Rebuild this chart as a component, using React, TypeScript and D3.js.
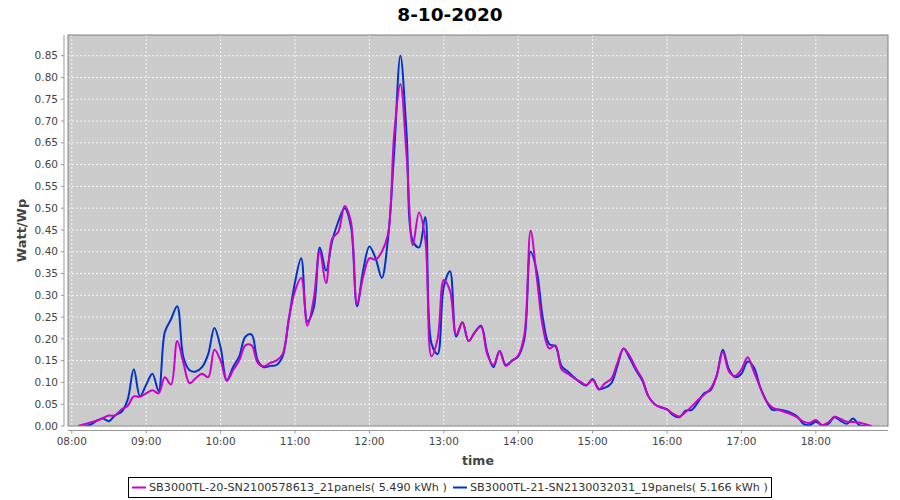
import React from "react";
import * as d3 from "d3";

const TITLE = "8-10-2020";
const X_LABEL = "time";
const Y_LABEL = "Watt/Wp";
const START_MINUTES = 5; // minutes after 08:00
const STEP_MINUTES = 5;

const seriesNames = [
  "SB3000TL-20-SN2100578613_21panels( 5.490 kWh )",
  "SB3000TL-21-SN2130032031_19panels( 5.166 kWh )",
];

const magentaValues: (number | null)[] = [
  0.0, 0.004, 0.008, 0.012, 0.018, 0.024, 0.024, 0.038, 0.046, 0.068,
  0.067, 0.075, 0.082, 0.075, 0.112, 0.095, 0.195, 0.145, 0.098, 0.110,
  0.120, 0.112, 0.175, 0.150, 0.104, 0.128, 0.150, 0.185, 0.185, 0.145,
  0.137, 0.145, 0.150, 0.165, 0.245, 0.310, 0.340, 0.230, 0.290, 0.400,
  0.328, 0.430, 0.446, 0.505, 0.470, 0.280, 0.343, 0.385, 0.382, 0.400,
  0.440, 0.670, 0.785, 0.620, 0.415, 0.490, 0.430, 0.160, 0.200, 0.335,
  0.310, 0.210, 0.238, 0.195, 0.215, 0.228, 0.165, 0.140, 0.172, 0.138,
  0.150, 0.162, 0.210, 0.448, 0.340, 0.225, 0.178, 0.185, 0.130, 0.120,
  0.110, 0.102, 0.094, 0.106, 0.084, 0.098, 0.108, 0.145, 0.178, 0.160,
  0.132, 0.108, 0.068, 0.050, 0.043, 0.038, 0.028, 0.022, 0.032, 0.045,
  0.060, 0.072, 0.085, 0.115, 0.170, 0.125, 0.115, 0.130, 0.158, 0.125,
  0.090, 0.058, 0.042, 0.037, 0.032, 0.027, 0.020, 0.010, 0.007, 0.014,
  0.002, 0.008, 0.021, 0.016, 0.010, 0.009, 0.008, 0.004, 0.0,
];

const blueValues: (number | null)[] = [
  null, 0.0, 0.003, 0.012, 0.017, 0.011, 0.025, 0.032, 0.060, 0.130,
  0.068, 0.095, 0.120, 0.080, 0.215, 0.245, 0.275, 0.158, 0.128, 0.125,
  0.135, 0.165, 0.225, 0.180, 0.105, 0.135, 0.160, 0.205, 0.210, 0.150,
  0.135, 0.138, 0.140, 0.160, 0.245, 0.330, 0.385, 0.240, 0.270, 0.410,
  0.357, 0.425, 0.470, 0.500, 0.460, 0.275, 0.358, 0.412, 0.385, 0.340,
  0.430, 0.630, 0.850, 0.670, 0.425, 0.410, 0.480, 0.190, 0.165, 0.320,
  0.355, 0.205, 0.238, 0.195, 0.215, 0.230, 0.170, 0.135, 0.172, 0.140,
  0.150, 0.160, 0.200, 0.400, 0.355, 0.245, 0.188, 0.183, 0.137, 0.125,
  0.112, 0.100, 0.093, 0.108, 0.085, 0.088, 0.098, 0.138, 0.178, 0.155,
  0.128, 0.105, 0.068, 0.050, 0.043, 0.038, 0.025, 0.020, 0.035, 0.037,
  0.055, 0.075, 0.082, 0.115, 0.175, 0.130, 0.112, 0.120, 0.148, 0.135,
  0.090, 0.058, 0.037, 0.038, 0.035, 0.030, 0.022, 0.005, 0.002, 0.010,
  0.002, 0.005, 0.020, 0.012, 0.005, 0.017, 0.002, 0.0, 0.0,
];

const yTickValues = [
  0.0, 0.05, 0.1, 0.15, 0.2, 0.25, 0.3, 0.35, 0.4, 0.45, 0.5, 0.55, 0.6,
  0.65, 0.7, 0.75, 0.8, 0.85,
];
const xTickLabels = [
  "08:00", "09:00", "10:00", "11:00", "12:00", "13:00", "14:00", "15:00",
  "16:00", "17:00", "18:00",
];
const seriesColors = ["#cc00cc", "#0033cc"];

const W = 900;
const H = 500;
const PL = 68, PR = 888, PT = 35, PB = 426;
const FONT = "'DejaVu Sans', Verdana, sans-serif";

function toMinutes(label: string) {
  const [h, m] = label.split(":").map(Number);
  return (h - 8) * 60 + m;
}

export default function App() {
  const x = d3.scaleLinear().domain([-3.06, 658.2]).range([PL, PR]);
  const y = d3.scaleLinear().domain([0, 0.8975]).range([PB, PT]);

  const mk = (vals: (number | null)[]) =>
    vals.map((v, i) => ({ t: START_MINUTES + i * STEP_MINUTES, v }));

  const line = d3
    .line<{ t: number; v: number | null }>()
    .defined((d) => d.v !== null)
    .x((d) => x(d.t))
    .y((d) => y(Math.max(0, d.v as number)))
    .curve(d3.curveCatmullRom.alpha(0.5));

  const series = [mk(magentaValues), mk(blueValues)];
  const drawOrder = [1, 0];

  return (
    <svg
      width={W}
      height={H}
      style={{ position: "absolute", left: 0, top: 0, background: "#fff" }}
      fontFamily={FONT}
    >
      <defs>
        <clipPath id="plotclip">
          <rect x={PL} y={PT} width={PR - PL} height={PB - PT} />
        </clipPath>
      </defs>
      <rect x={0} y={0} width={W} height={H} fill="#fff" />
      <text x={450} y={21} textAnchor="middle" fontSize={18.5} fontWeight="bold" fill="#000">
        {TITLE}
      </text>
      <rect x={PL} y={PT} width={PR - PL} height={PB - PT} fill="#cbcbcb" />
      {yTickValues.map((v) => (
        <line key={"gy" + v} x1={PL} x2={PR} y1={y(v)} y2={y(v)} stroke="#fff" strokeWidth={0.8} strokeDasharray="2,2" />
      ))}
      {xTickLabels.map((l) => (
        <line key={"gx" + l} x1={x(toMinutes(l))} x2={x(toMinutes(l))} y1={PT} y2={PB} stroke="#fff" strokeWidth={0.8} strokeDasharray="2,2" />
      ))}
      <g clipPath="url(#plotclip)">
        {drawOrder.map((si) => (
          <path key={"s" + si} d={line(series[si]) || ""} fill="none" stroke={seriesColors[si]} strokeWidth={2} strokeLinejoin="round" />
        ))}
      </g>
      <rect x={PL} y={PT} width={PR - PL} height={PB - PT} fill="none" stroke="#808080" strokeWidth={1} />
      <line x1={64} x2={64} y1={PT} y2={PB} stroke="#999" />
      {yTickValues.map((v) => (
        <g key={"yt" + v}>
          <line x1={61} x2={64} y1={y(v)} y2={y(v)} stroke="#999" />
          <text x={58} y={y(v)} dy="0.35em" textAnchor="end" fontSize={10.5} fill="#444">
            {d3.format(".2f")(v)}
          </text>
        </g>
      ))}
      <text transform={`translate(21,${(PT + PB) / 2}) rotate(-90)`} dy="0.35em" textAnchor="middle" fontSize={13} fontWeight="bold" fill="#444">
        {Y_LABEL}
      </text>
      <line x1={PL} x2={PR} y1={430.5} y2={430.5} stroke="#999" />
      {xTickLabels.map((l) => (
        <g key={"xt" + l}>
          <line x1={x(toMinutes(l))} x2={x(toMinutes(l))} y1={430.5} y2={433.5} stroke="#999" />
          <text x={x(toMinutes(l))} y={441} dy="0.35em" textAnchor="middle" fontSize={10.5} fill="#444">
            {l}
          </text>
        </g>
      ))}
      <text x={(PL + PR) / 2} y={465} textAnchor="middle" fontSize={12.5} fontWeight="bold" fill="#444">
        {X_LABEL}
      </text>
      <rect x={128.5} y={477.5} width={643} height={20} fill="#fff" stroke="#000" strokeWidth={1} />
      <line x1={132} x2={146} y1={487.5} y2={487.5} stroke={seriesColors[0]} strokeWidth={2} />
      <text x={149} y={487.5} dy="0.35em" fontSize={11.2} fill="#333">{seriesNames[0]}</text>
      <line x1={453} x2={467} y1={487.5} y2={487.5} stroke={seriesColors[1]} strokeWidth={2} />
      <text x={470} y={487.5} dy="0.35em" fontSize={11.2} fill="#333">{seriesNames[1]}</text>
    </svg>
  );
}
